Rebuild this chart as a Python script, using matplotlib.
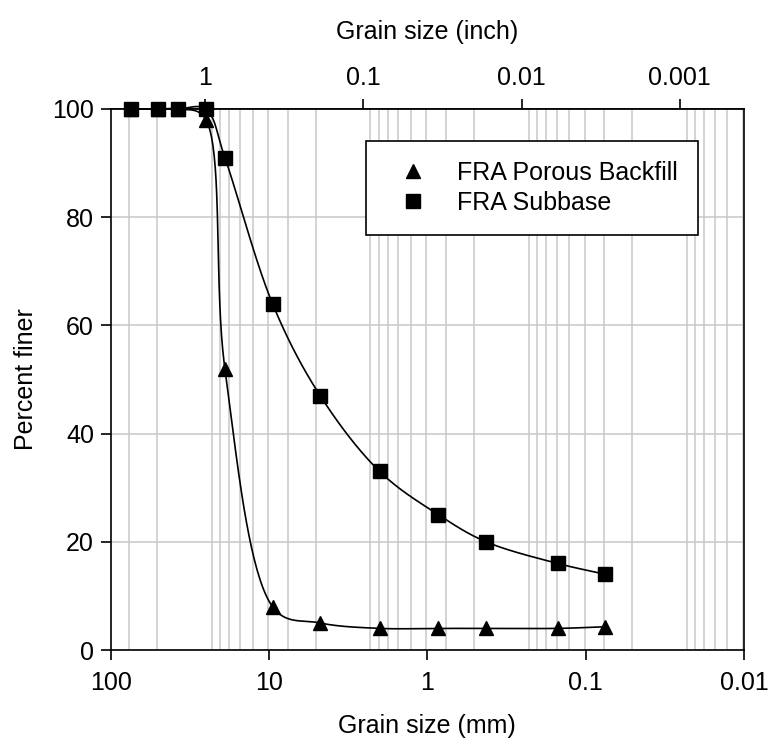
import numpy as np
import matplotlib.pyplot as plt
from matplotlib.ticker import NullLocator

# sieve openings (mm) and percent passing
sieve_mm = [75, 50, 37.5, 25, 19, 9.5, 4.75, 2.0, 0.85, 0.425, 0.15, 0.075]
porous_backfill = [100, 100, 100, 98, 52, 8, 5, 4, 4, 4, 4, 4.3]
subbase = [100, 100, 100, 100, 91, 64, 47, 33, 25, 20, 16, 14]

mm_ticks = [100, 10, 1, 0.1, 0.01]
mm_labels = ['100', '10', '1', '0.1', '0.01']
inch_ticks = [1, 0.1, 0.01, 0.001]
inch_labels = ['1', '0.1', '0.01', '0.001']

MM_PER_INCH = 25.4
FS = 18

plt.rcParams['font.family'] = ['Liberation Sans', 'DejaVu Sans']


def smooth(ax, x, y, n=40, alpha=0.4):
    # centripetal catmull-rom through the points, in screen space
    pts = ax.transData.transform(np.column_stack([x, y]))
    pts = np.vstack([2 * pts[0] - pts[1], pts, 2 * pts[-1] - pts[-2]])
    out = []
    for i in range(1, len(pts) - 2):
        p0, p1, p2, p3 = pts[i - 1], pts[i], pts[i + 1], pts[i + 2]
        t0 = 0.0
        t1 = t0 + np.linalg.norm(p1 - p0) ** alpha
        t2 = t1 + np.linalg.norm(p2 - p1) ** alpha
        t3 = t2 + np.linalg.norm(p3 - p2) ** alpha
        t = np.linspace(t1, t2, n)[:, None]
        a1 = (t1 - t) / (t1 - t0) * p0 + (t - t0) / (t1 - t0) * p1
        a2 = (t2 - t) / (t2 - t1) * p1 + (t - t1) / (t2 - t1) * p2
        a3 = (t3 - t) / (t3 - t2) * p2 + (t - t2) / (t3 - t2) * p3
        b1 = (t2 - t) / (t2 - t0) * a1 + (t - t0) / (t2 - t0) * a2
        b2 = (t3 - t) / (t3 - t1) * a2 + (t - t1) / (t3 - t1) * a3
        out.append((t2 - t) / (t2 - t1) * b1 + (t - t1) / (t2 - t1) * b2)
    out = ax.transData.inverted().transform(np.vstack(out))
    return out[:, 0], out[:, 1]


fig = plt.figure(figsize=(7.7, 7.44), dpi=100)
ax = fig.add_axes([0.1438, 0.1263, 0.8223, 0.7272])
ax.set_xscale('log')
ax.set_xlim(100, 0.01)
ax.set_ylim(0, 100)

# vertical grid follows the inch minor ticks
for k in range(-4, 1):
    for m in range(2, 10):
        mm = m * 10.0 ** k * MM_PER_INCH
        if 0.01 < mm < 100:
            ax.axvline(mm, color='#c8c8c8', lw=1.1, zorder=0)
ax.set_yticks([0, 20, 40, 60, 80, 100])
ax.yaxis.grid(True, color='#c8c8c8', lw=1.1, zorder=0)

for vals, mk, ms, lab in [(porous_backfill, '^', 10.5, 'FRA Porous Backfill'),
                          (subbase, 's', 9.5, 'FRA Subbase')]:
    sx, sy = smooth(ax, sieve_mm, vals)
    ax.plot(sx, sy, color='black', lw=1.2, zorder=3, clip_on=False)
    ax.plot(sieve_mm, vals, ls='none', marker=mk, ms=ms, color='black',
            label=lab, zorder=4, clip_on=False)

ax.set_xticks(mm_ticks, mm_labels)
ax.xaxis.set_minor_locator(NullLocator())
ax.tick_params(axis='both', direction='out', length=7, width=1.2,
               labelsize=FS, right=False)
ax.tick_params(axis='x', pad=8)
ax.tick_params(axis='y', pad=5)
for s in ax.spines.values():
    s.set_linewidth(1.2)

secax = ax.secondary_xaxis('top', functions=(lambda x: x / MM_PER_INCH,
                                             lambda x: x * MM_PER_INCH))
secax.set_xticks(inch_ticks, inch_labels)
secax.xaxis.set_minor_locator(NullLocator())
secax.tick_params(direction='out', length=7, width=1.2, labelsize=FS, pad=7)
secax.spines['top'].set_linewidth(1.2)
secax.set_xlabel('Grain size (inch)', fontsize=FS, labelpad=19)

ax.set_xlabel('Grain size (mm)', fontsize=FS, labelpad=14)
ax.set_ylabel('Percent finer', fontsize=FS, labelpad=10)

leg = ax.legend(loc='upper left', bbox_to_anchor=(0.403, 0.941), fontsize=FS,
                frameon=True, fancybox=False, framealpha=1, edgecolor='black',
                borderpad=0.8, handlelength=2.2, handletextpad=0.65,
                labelspacing=0.25, borderaxespad=0)
leg.get_frame().set_linewidth(1.2)

fig.savefig('out.png', dpi=100)
